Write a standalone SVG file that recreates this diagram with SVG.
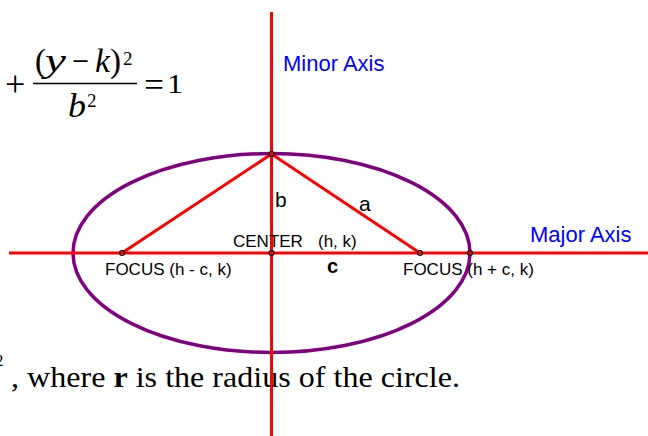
<svg xmlns="http://www.w3.org/2000/svg" width="648" height="436" viewBox="0 0 648 436">
<style>
.axis{stroke:#FF0000;stroke-width:3;fill:none}
.tri{stroke:#FF0000;stroke-width:3;fill:none;stroke-linecap:round}
.ell{stroke:#800080;stroke-width:3.5;fill:none}
.pt{stroke:#000;stroke-width:1.2;fill:none}
.lbl{font-family:"Liberation Sans",Arial,sans-serif;fill:#000}
.blue{font-family:"Liberation Sans",Arial,sans-serif;fill:#0000FF;font-size:22px}
.m{font-family:"Liberation Serif","Times New Roman",serif;fill:#000}
.i{font-style:italic}
</style>
<rect width="648" height="436" fill="#fff"/>
<g id="formula">
<text class="m" x="5" y="96" font-size="36">+</text>
<text class="m" x="35" y="72" font-size="33" textLength="11" lengthAdjust="spacingAndGlyphs">(</text>
<text class="m i" x="45" y="72" font-size="33" textLength="21" lengthAdjust="spacingAndGlyphs">y</text>
<text class="m" x="72" y="72" font-size="33" textLength="17" lengthAdjust="spacingAndGlyphs">−</text>
<text class="m i" x="95" y="72" font-size="33" textLength="15" lengthAdjust="spacingAndGlyphs">k</text>
<text class="m" x="110" y="72" font-size="33" textLength="11" lengthAdjust="spacingAndGlyphs">)</text>
<text class="m" x="123" y="65" font-size="19">2</text>
<line x1="33" y1="83.5" x2="137" y2="83.5" stroke="#000" stroke-width="1.3"/>
<text class="m i" x="68" y="117" font-size="33" textLength="18" lengthAdjust="spacingAndGlyphs">b</text>
<text class="m" x="87" y="107" font-size="19">2</text>
<text class="m" x="144" y="96" font-size="33" textLength="20" lengthAdjust="spacingAndGlyphs">=</text>
<text class="m" x="167" y="93" font-size="27" textLength="16" lengthAdjust="spacingAndGlyphs">1</text>
</g>
<g id="sentence">
<text class="m" x="-5" y="366" font-size="17">2</text>
<text class="m" x="11" y="387" font-size="30" textLength="449" lengthAdjust="spacingAndGlyphs">, where <tspan font-weight="bold">r</tspan> is the radius of the circle.</text>
</g>
<g id="connectors">
<ellipse class="ell" cx="271.5" cy="253" rx="198.5" ry="99.5"/>
<line class="axis" x1="271.5" y1="12" x2="271.5" y2="436"/>
<line class="axis" x1="9" y1="253" x2="648" y2="253"/>
<line class="tri" x1="271.5" y1="154" x2="122" y2="253"/>
<line class="tri" x1="271.5" y1="154" x2="420" y2="253"/>
</g>
<g id="vertex-top"><circle class="pt" cx="271.5" cy="154" r="2.5"/></g>
<g id="focus-left"><circle class="pt" cx="122" cy="253" r="2.5"/>
<text class="lbl" x="105" y="275" font-size="17">FOCUS (h - c, k)</text></g>
<g id="center"><circle class="pt" cx="271.5" cy="253" r="2.5"/>
<text class="lbl" x="233" y="247" font-size="17">CENTER</text>
<text class="lbl" x="318" y="247" font-size="17">(h, k)</text></g>
<g id="focus-right"><circle class="pt" cx="420" cy="253" r="2.5"/>
<text class="lbl" x="403" y="275" font-size="17">FOCUS (h + c, k)</text></g>
<g id="vertex-right"><circle class="pt" cx="470" cy="253" r="2.5"/></g>
<g id="labels">
<text class="lbl" x="275" y="207" font-size="21">b</text>
<text class="lbl" x="359" y="211" font-size="21">a</text>
<text class="lbl" x="327" y="273" font-size="20" font-weight="bold">c</text>
<text class="blue" x="530" y="242">Major Axis</text>
<text class="blue" x="283" y="71">Minor Axis</text>
</g>
</svg>
